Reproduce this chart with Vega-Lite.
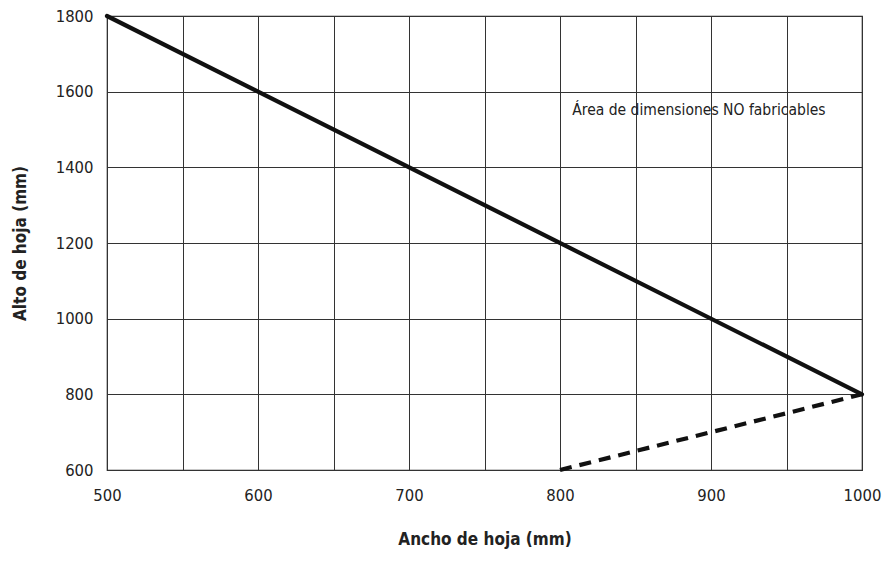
{
  "$schema": "https://vega.github.io/schema/vega-lite/v6.json",
  "width": 755,
  "height": 454,
  "autosize": {"type": "none"},
  "padding": {"left": 107, "top": 16, "right": 20, "bottom": 93},
  "background": "white",
  "config": {
    "view": {"stroke": "#222", "strokeWidth": 1.2},
    "font": "DejaVu Sans Condensed, Roboto, sans-serif",
    "axis": {
      "grid": true,
      "gridColor": "#333",
      "gridWidth": 1,
      "gridOpacity": 1,
      "domain": false,
      "ticks": false,
      "labelFlush": false,
      "labelFont": "DejaVu Sans Condensed, Roboto, sans-serif",
      "labelFontSize": 16.5,
      "labelColor": "#222",
      "titleFont": "DejaVu Sans Condensed, Roboto, sans-serif",
      "titleFontSize": 17,
      "titleFontWeight": "bold",
      "titleColor": "#222"
    }
  },
  "datasets": {
    "lines": [
      {"ancho": 500, "alto": 1800, "serie": "limite"},
      {"ancho": 1000, "alto": 800, "serie": "limite"},
      {"ancho": 800, "alto": 600, "serie": "minimo"},
      {"ancho": 1000, "alto": 800, "serie": "minimo"}
    ],
    "notes": [
      {"ancho": 892, "alto": 1552, "texto": "Área de dimensiones NO fabricables"}
    ]
  },
  "layer": [
    {
      "data": {"name": "lines"},
      "transform": [{"filter": "datum.serie == 'limite'"}],
      "mark": {"type": "line", "color": "#111", "strokeWidth": 4.2, "strokeCap": "round", "clip": false},
      "encoding": {
        "x": {
          "field": "ancho", "type": "quantitative",
          "scale": {"domain": [500, 1000], "nice": false, "zero": false},
          "axis": {
            "title": "Ancho de hoja (mm)",
            "values": [500, 550, 600, 650, 700, 750, 800, 850, 900, 950, 1000],
            "labelExpr": "datum.value % 100 == 0 ? datum.label : ''",
            "labelPadding": 17,
            "titlePadding": 28,
            "format": "d"
          }
        },
        "y": {
          "field": "alto", "type": "quantitative",
          "scale": {"domain": [600, 1800], "nice": false, "zero": false},
          "axis": {
            "title": "Alto de hoja (mm)",
            "values": [600, 700, 800, 900, 1000, 1100, 1200, 1300, 1400, 1500, 1600, 1700, 1800],
            "labelExpr": "datum.value % 200 == 0 ? datum.label : ''",
            "labelPadding": 14,
            "titlePadding": 26,
            "format": "d"
          }
        },
        "order": {"field": "ancho"}
      }
    },
    {
      "data": {"name": "lines"},
      "transform": [{"filter": "datum.serie == 'minimo'"}],
      "mark": {"type": "line", "color": "#111", "strokeWidth": 4.2, "strokeDash": [12, 8], "clip": false},
      "encoding": {
        "x": {"field": "ancho", "type": "quantitative"},
        "y": {"field": "alto", "type": "quantitative"},
        "order": {"field": "ancho"}
      }
    },
    {
      "data": {"name": "notes"},
      "mark": {"type": "text", "fontSize": 15.5, "color": "#222", "font": "DejaVu Sans Condensed, Roboto, sans-serif", "align": "center", "baseline": "middle"},
      "encoding": {
        "x": {"field": "ancho", "type": "quantitative"},
        "y": {"field": "alto", "type": "quantitative"},
        "text": {"field": "texto"}
      }
    }
  ]
}
